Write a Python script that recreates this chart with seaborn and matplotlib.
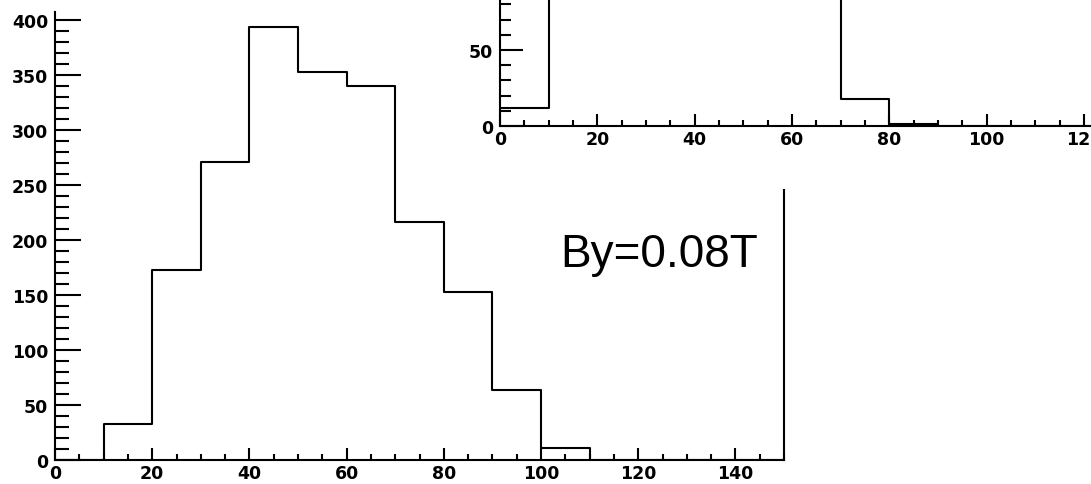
import matplotlib
matplotlib.use("Agg")
import matplotlib.pyplot as plt
from matplotlib.ticker import MultipleLocator, FixedLocator
import numpy as np
import seaborn as sns

# ---- data ----
bin_edges = list(range(0, 160, 10))
main_counts = [0, 33, 173, 271, 394, 353, 340, 216, 153, 64, 11, 0, 0, 0, 0]
# inset histogram: bins 10-70 run off the top of the picture (estimated)
inset_counts = [12, 150, 310, 420, 380, 250, 120, 18, 1, 0, 0, 0, 0, 0, 0]
main_yticks = [0, 50, 100, 150, 200, 250, 300, 350, 400]
inset_yticks = [0, 50]
xticks = [0, 20, 40, 60, 80, 100, 120, 140]
label_text = "By=0.08T"

sns.set_style("ticks")
plt.rcParams["font.family"] = ["Liberation Sans", "DejaVu Sans"]
plt.rcParams["text.color"] = "black"
plt.rcParams["xtick.color"] = "black"
plt.rcParams["ytick.color"] = "black"
plt.rcParams["xtick.labelcolor"] = "black"
plt.rcParams["ytick.labelcolor"] = "black"

W, H = 1091, 485
fig = plt.figure(figsize=(W / 100, H / 100), dpi=100)
fig.patch.set_facecolor("white")

def px_axes(x0, y0, x1, y1, **kw):
    return fig.add_axes([x0 / W, 1 - y1 / H, (x1 - x0) / W, (y1 - y0) / H], **kw)

centers = [e + 5 for e in bin_edges[:-1]]

def style_axis(ax, ymaj_len, ymin_len):
    for s in ax.spines.values():
        s.set_linewidth(1.5)
        s.set_color("black")
    ax.spines["top"].set_visible(False)
    ax.xaxis.set_major_locator(FixedLocator(xticks))
    ax.xaxis.set_minor_locator(MultipleLocator(5))
    ax.yaxis.set_minor_locator(MultipleLocator(10))
    ax.tick_params(axis="x", which="major", direction="in", length=8.6, width=1.5, pad=3,
                   labelsize=12.5, colors="black")
    ax.tick_params(axis="x", which="minor", direction="in", length=4.3, width=1.5, colors="black")
    ax.tick_params(axis="y", which="major", direction="in", length=ymaj_len, width=1.5, pad=5,
                   labelsize=12.5, colors="black")
    ax.tick_params(axis="y", which="minor", direction="in", length=ymin_len, width=1.5, colors="black")
    for lab in ax.get_xticklabels() + ax.get_yticklabels():
        lab.set_fontweight("bold")
        lab.set_family(["DejaVu Sans"])
        lab.set_color("black")
    ax.set_xlabel("")
    ax.set_ylabel("")

# ---- main histogram ----
ax = px_axes(55, 13, 784, 461)
ax.set_zorder(1)
sns.histplot(x=centers, weights=main_counts, bins=bin_edges, element="step", fill=False,
             color="black", linewidth=1.5, ax=ax)
ax.set_xlim(0, 150)
ax.set_ylim(0, (461 - 13) / 1.1)
ax.set_yticks(main_yticks)
ax.set_yticklabels([str(v) for v in main_yticks])
ax.set_xticklabels([str(v) for v in xticks])
style_axis(ax, 18.7, 10)
ax.spines["right"].set_visible(True)

fig.text(560 / W, 1 - 267 / H, label_text, fontsize=33, ha="left", va="baseline",
         color="black", family=["Liberation Sans", "DejaVu Sans"])

# ---- white pad of the inset ----
pad = px_axes(452, 0, W, 190)
pad.set_zorder(2)
pad.set_facecolor("white")
for s in pad.spines.values():
    s.set_visible(False)
pad.set_xticks([])
pad.set_yticks([])

# ---- inset histogram ----
ax2 = px_axes(500, 0, 500 + 150 * 4.867, 127)
ax2.set_zorder(3)
ax2.patch.set_alpha(0)
sns.histplot(x=centers, weights=inset_counts, bins=bin_edges, element="step", fill=False,
             color="black", linewidth=1.5, ax=ax2)
ax2.set_xlim(0, 150)
ax2.set_ylim(0, 127 / 1.52)
ax2.set_yticks(inset_yticks)
ax2.set_yticklabels([str(v) for v in inset_yticks])
ax2.set_xticklabels([str(v) for v in xticks])
style_axis(ax2, 16.5, 8)
ax2.spines["right"].set_visible(False)

fig.savefig("out.png", dpi=100)
